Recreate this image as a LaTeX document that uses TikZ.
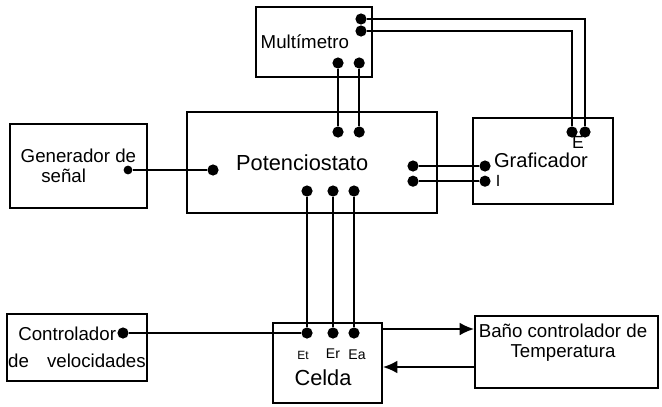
\documentclass[tikz,border=0pt]{standalone}
\usepackage{fontspec}
\setmainfont{Liberation Sans}
\usetikzlibrary{arrows.meta, positioning}

\begin{document}
\begin{tikzpicture}[
    box/.style={draw, line width=1.2pt, inner sep=0pt, align=center, font=\fontsize{13.3}{14.2}\selectfont},
    txt/.style={inner sep=0pt, align=center, font=\fontsize{13.3}{14.2}\selectfont},
    dot/.style={circle, fill, inner sep=0pt, minimum size=0.28cm},
    lbl/.style={inner sep=0pt, font=\fontsize{10}{12}\selectfont},
    wire/.style={line width=1.3pt},
    flecha/.style={line width=1.3pt, -{Latex[length=3.6mm,width=3.2mm]}}
]
    \useasboundingbox (0,0) rectangle (16.55,10.15);
    % bloques
    \node[box, minimum width=2.9cm, minimum height=1.75cm] (mult) at (7.85,9.1) {Multímetro\hspace*{13pt}};
    \node[box, minimum width=6.25cm, minimum height=2.525cm, font=\fontsize{15.5}{18}\selectfont] (pot) at (7.8,6.09) {Potenciostato\hspace*{14pt}};
    \node[box, minimum width=3.425cm, minimum height=2.1cm] (gen) at (1.96,6.0) {Generador de\\señal\hspace*{21pt}};
    \node[box, minimum width=3.5cm, minimum height=2.15cm] (graf) at (13.575,6.125) {};
    \node[txt, font=\fontsize{14.3}{16}\selectfont] (grafT) at (13.525,6.14) {Graficador};
    \node[box, minimum width=3.5cm, minimum height=1.675cm] (ctrl) at (1.925,1.46) {Controlador\hspace*{14pt}\\[5pt]de\hspace{12.8pt}velocidades};
    \node[box, minimum width=2.725cm, minimum height=2.0cm] (celda) at (8.19,1.07) {};
    \node[txt, font=\fontsize{15.5}{18}\selectfont] (celdaT) at (8.075,0.7) {Celda};
    \node[box, minimum width=4.575cm, minimum height=1.8cm] (bano) at (14.16,1.35) {};
    \node[txt] (banoT) at (14.075,1.575) {Baño controlador de\\Temperatura};

    % terminales
    \node[dot] (m1) at (9.025,9.675) {};
    \node[dot] (m2) at (9.025,9.375) {};
    \node[dot] (m3) at (8.45,8.575) {};
    \node[dot] (m4) at (8.98,8.575) {};
    \node[dot] (p1) at (8.45,6.85) {};
    \node[dot] (p2) at (8.98,6.85) {};
    \node[dot] (p0) at (5.325,5.9) {};
    \node[dot, minimum size=0.22cm] (g0) at (3.2,5.9) {};
    \node[dot] (pr1) at (10.325,6.0) {};
    \node[dot] (pr2) at (10.325,5.62) {};
    \node[dot] (gl1) at (12.125,6.0) {};
    \node[dot] (gl2) at (12.125,5.62) {};
    \node[dot] (ge1) at (14.3,6.85) {};
    \node[dot] (ge2) at (14.625,6.85) {};
    \node[dot] (pb1) at (7.675,5.375) {};
    \node[dot] (pb2) at (8.325,5.375) {};
    \node[dot] (pb3) at (8.85,5.375) {};
    \node[dot] (ce1) at (7.675,1.825) {};
    \node[dot] (ce2) at (8.325,1.825) {};
    \node[dot] (ce3) at (8.85,1.825) {};
    \node[dot] (c0) at (3.075,1.825) {};

    % etiquetas
    \node[lbl, font=\fontsize{12.5}{14}\selectfont] (lblE) at (14.45,6.6) {E};
    \node[lbl, font=\fontsize{11.5}{14}\selectfont, right=0.12cm of gl2] (lblI) {I};
    \node[lbl, font=\fontsize{8.5}{10}\selectfont, below=0.3cm of ce1, xshift=-0.1cm] (lblEt) {Et};
    \node[lbl, below=0.25cm of ce2] (lblEr) {Er};
    \node[lbl, below=0.27cm of ce3, xshift=0.075cm] (lblEa) {Ea};

    % conexiones
    \draw[wire] (m1) -- (m1 -| ge2) -- (ge2);
    \draw[wire] (m2) -- (m2 -| ge1) -- (ge1);
    \draw[wire] (m3) -- (p1);
    \draw[wire] (m4) -- (p2);
    \draw[wire] (g0) -- (p0);
    \draw[wire] (pr1) -- (gl1);
    \draw[wire] (pr2) -- (gl2);
    \draw[wire] (pb1) -- (ce1);
    \draw[wire] (pb2) -- (ce2);
    \draw[wire] (pb3) -- (ce3);
    \draw[wire] (c0) -- (ce1);
    \draw[flecha] (celda.east |- 0,1.925) -- (bano.west |- 0,1.925);
    \draw[flecha] (bano.west |- 0,0.975) -- (celda.east |- 0,0.975);
\end{tikzpicture}
\end{document}
